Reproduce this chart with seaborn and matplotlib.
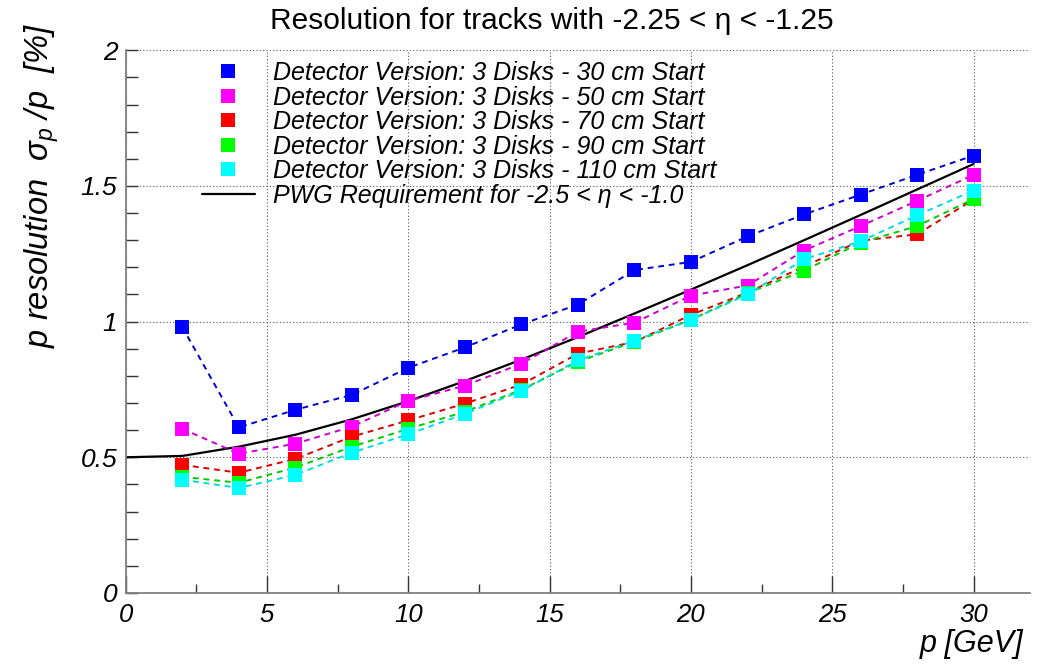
import matplotlib
matplotlib.use("Agg")
import matplotlib.pyplot as plt
import seaborn as sns
import pandas as pd
from matplotlib.lines import Line2D
from matplotlib.ticker import MultipleLocator

# ---- data ----
p_values = [2, 4, 6, 8, 10, 12, 14, 16, 18, 20, 22, 24, 26, 28, 30]
res_30cm = [0.98, 0.61, 0.675, 0.73, 0.83, 0.905, 0.99, 1.063, 1.19, 1.22, 1.314, 1.395, 1.468, 1.541, 1.612]
res_50cm = [0.605, 0.513, 0.55, 0.613, 0.708, 0.764, 0.845, 0.963, 0.996, 1.096, 1.133, 1.262, 1.352, 1.445, 1.541]
res_70cm = [0.472, 0.443, 0.494, 0.576, 0.636, 0.698, 0.768, 0.882, 0.925, 1.025, 1.107, 1.203, 1.298, 1.322, 1.450]
res_90cm = [0.428, 0.406, 0.462, 0.539, 0.605, 0.668, 0.749, 0.852, 0.926, 1.007, 1.105, 1.188, 1.291, 1.352, 1.452]
res_110cm = [0.417, 0.387, 0.435, 0.517, 0.585, 0.660, 0.745, 0.857, 0.930, 1.007, 1.100, 1.230, 1.296, 1.392, 1.483]
series_labels = [
    "Detector Version: 3 Disks - 30 cm Start",
    "Detector Version: 3 Disks - 50 cm Start",
    "Detector Version: 3 Disks - 70 cm Start",
    "Detector Version: 3 Disks - 90 cm Start",
    "Detector Version: 3 Disks - 110 cm Start",
]
series_colors = ["#0000ff", "#ff00ff", "#ff0000", "#00ff00", "#00ffff"]
line_colors = ["#0000cc", "#cc00cc", "#dd0000", "#00cc00", "#00dddd"]

pwg_p = [0, 2, 4, 6, 8, 10, 12, 14, 16, 18, 20, 22, 24, 26, 28, 30]
pwg_res = [0.50, 0.505, 0.539, 0.583, 0.640, 0.707, 0.781, 0.860, 0.943, 1.030, 1.118, 1.208, 1.300, 1.393, 1.487, 1.581]
pwg_label = "PWG Requirement for -2.5 < \u03b7 < -1.0"

title = "Resolution for tracks with -2.25 < \u03b7 < -1.25"
xlabel = "p [GeV]"
ylabel = r"p resolution  $\sigma_{p}$ /p  [%]"

# ---- style ----
sns.set_style("white")
plt.rcParams["font.family"] = ["Liberation Sans", "DejaVu Sans"]
plt.rcParams["mathtext.fontset"] = "custom"
plt.rcParams["mathtext.rm"] = "Liberation Sans"
plt.rcParams["mathtext.it"] = "Liberation Sans:italic"
plt.rcParams["text.color"] = "black"
plt.rcParams["axes.labelcolor"] = "black"
plt.rcParams["xtick.color"] = "black"
plt.rcParams["ytick.color"] = "black"

fig = plt.figure(figsize=(10.48, 6.70), dpi=100)
ax = fig.add_axes([0.120, 0.115, 0.863, 0.81])

all_series = [res_30cm, res_50cm, res_70cm, res_90cm, res_110cm]
handles = []
for vals, lab, mc, lc in zip(all_series, series_labels, series_colors, line_colors):
    df = pd.DataFrame({"p": p_values, "res": vals})
    sns.lineplot(data=df, x="p", y="res", ax=ax, color=lc, linestyle=(0, (3, 2.5)),
                 linewidth=1.4, marker="s", markersize=10.5, markerfacecolor=mc,
                 markeredgecolor=mc, markeredgewidth=0, zorder=3)
    handles.append(Line2D([], [], linestyle="none", marker="s", markersize=10.5,
                          markerfacecolor=mc, markeredgewidth=0, label=lab))

pwg_df = pd.DataFrame({"p": pwg_p, "res": pwg_res})
sns.lineplot(data=pwg_df, x="p", y="res", ax=ax, color="black", linewidth=1.6, zorder=2)
handles.append(Line2D([], [], color="black", linewidth=1.6, label=pwg_label))

ax.set_xlim(0, 32)
ax.set_ylim(0, 2)
ax.xaxis.set_major_locator(MultipleLocator(5))
ax.xaxis.set_minor_locator(MultipleLocator(2.5))
ax.yaxis.set_major_locator(MultipleLocator(0.5))
ax.yaxis.set_minor_locator(MultipleLocator(0.1))
ax.set_xticks([0, 5, 10, 15, 20, 25, 30])
ax.set_xticklabels(["0", "5", "10", "15", "20", "25", "30"])
ax.set_yticks([0, 0.5, 1, 1.5, 2])
ax.set_yticklabels(["0", "0.5", "1", "1.5", "2"])

ax.grid(True, which="major", linestyle=(0, (1, 2)), color="#555555", linewidth=0.8)
for s in ["top", "right"]:
    ax.spines[s].set_visible(False)
for s in ["left", "bottom"]:
    ax.spines[s].set_color("#808080")
    ax.spines[s].set_linewidth(1.3)

ax.tick_params(axis="x", which="major", direction="in", length=12.5, width=1, color="#333333",
               labelsize=18.5, pad=7)
ax.tick_params(axis="x", which="minor", direction="in", length=6.5, width=1, color="#333333")
ax.tick_params(axis="y", which="major", direction="in", length=8.5, width=1, color="#333333",
               labelsize=19, pad=6)
ax.tick_params(axis="y", which="minor", direction="in", length=8.5, width=1, color="#333333")
ax.tick_params(axis="both", which="both", bottom=True, left=True)
for lbl in ax.get_xticklabels() + ax.get_yticklabels():
    lbl.set_fontstyle("italic")

ax.set_xlabel(xlabel, fontsize=22, fontstyle="italic", ha="right", va="top")
ax.xaxis.set_label_coords(0.992, -0.066)
ax.set_ylabel(ylabel, fontsize=23.5, fontstyle="italic", ha="right", va="bottom")
ax.yaxis.set_label_coords(-0.072, 1.05)
fig.text(0.527, 0.969, title, ha="center", va="center", fontsize=21.5)

leg = ax.legend(handles=handles, loc="upper left", bbox_to_anchor=(0.065, 1.012),
                frameon=False, prop={"style": "italic", "size": 18},
                labelspacing=0.02, handlelength=2.1, handletextpad=0.75, borderpad=0.2)

fig.savefig("out.png", dpi=100)
